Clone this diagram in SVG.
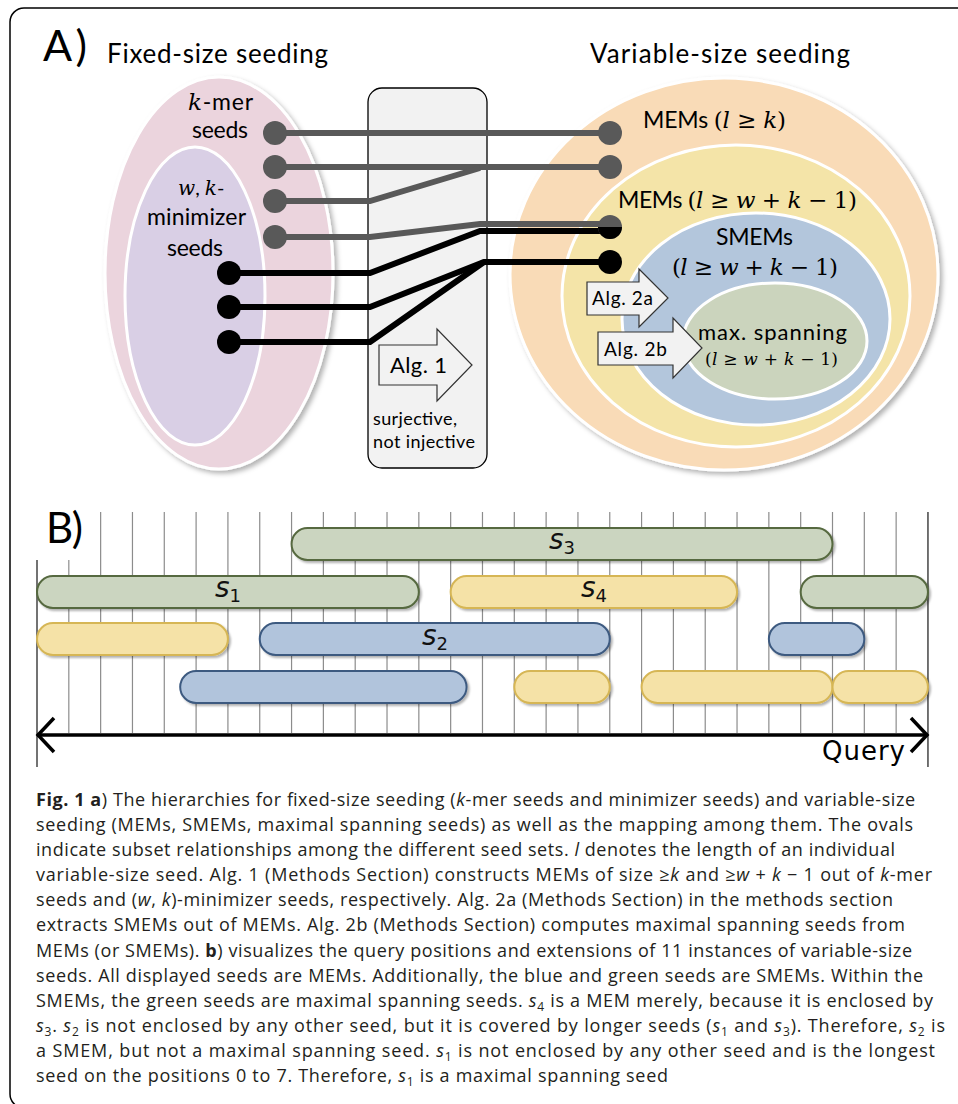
<svg xmlns="http://www.w3.org/2000/svg" width="958" height="1104" viewBox="0 0 958 1104">
<defs>
<filter id="sh" x="-10%" y="-10%" width="130%" height="130%"><feDropShadow dx="3" dy="3" stdDeviation="2.5" flood-color="#000" flood-opacity="0.3"/></filter>
<filter id="bsh" x="-5%" y="-20%" width="115%" height="160%"><feDropShadow dx="2" dy="2" stdDeviation="1.2" flood-color="#000" flood-opacity="0.3"/></filter>
<style>
.t{font-family:Lato,"Liberation Sans",sans-serif;fill:#000}
.m{font-family:"DejaVu Serif",serif;font-style:italic}
.mu{font-family:"DejaVu Serif",serif;font-style:normal}
.oval{stroke:#fff;stroke-width:3}
.g{stroke:#595959;stroke-width:6;fill:none}
.b{stroke:#000;stroke-width:6;fill:none}
.grid{stroke:#8c8c8c;stroke-width:1.2}
.dk{stroke:#444;stroke-width:1.5}
.gr{fill:#cbd5c0;stroke:#56693f;stroke-width:2}
.ye{fill:#f5e2a7;stroke:#d6b655;stroke-width:2}
.bl{fill:#b1c4dc;stroke:#3d5a80;stroke-width:2}
.cap{font-family:"Open Sans","Liberation Sans",sans-serif;font-size:18px;fill:#231f20}
.i{font-style:italic}
.bd{font-weight:bold}
.sub{font-size:12px}
.arr{fill:#f2f2f2;stroke:#333;stroke-width:1.2}
.sl{font-family:"DejaVu Sans",sans-serif;font-size:28px;font-style:italic;fill:#111}
.ss{font-size:18px;font-style:normal}
</style>
</defs>
<rect width="958" height="1104" fill="#fff"/>
<rect x="10" y="8" width="975" height="1100" rx="14" fill="#fff" stroke="#000" stroke-width="1.5"/>

<!-- Part A titles -->
<text class="t" x="43" y="61" font-size="43" textLength="44">A)</text>
<text class="t" x="107" y="63" font-size="26" textLength="221">Fixed-size seeding</text>
<text class="t" x="590" y="63" font-size="26" textLength="260">Variable-size seeding</text>

<!-- Fixed-size ovals -->
<g id="kmer-seeds">
<ellipse class="oval" cx="219" cy="273" rx="114" ry="196" fill="#ebd4dd" filter="url(#sh)"/>
<text class="t" x="188" y="110" font-size="23" textLength="65"><tspan class="m">k</tspan>-mer</text>
<text class="t" x="192" y="138" font-size="23" textLength="56">seeds</text>
</g>
<g id="minimizer-seeds">
<ellipse class="oval" cx="195" cy="296" rx="70" ry="149" fill="#d9cfe5"/>
<text class="t" x="178" y="195" font-size="20"><tspan class="m">w</tspan>, <tspan class="m">k</tspan>-</text>
<text class="t" x="147" y="225" font-size="23" textLength="99">minimizer</text>
<text class="t" x="167" y="256" font-size="23" textLength="56">seeds</text>
</g>

<!-- Middle box -->
<g id="alg1-box">
<rect x="368" y="88" width="119" height="380" rx="14" fill="#f2f2f2" stroke="#000" stroke-width="1.3"/>
</g>

<!-- Variable-size ovals -->
<g id="mems-k">
<ellipse class="oval" cx="724" cy="274" rx="214" ry="196" fill="#f9dbb7" filter="url(#sh)"/>
<text class="t" x="643" y="128" font-size="23" textLength="143">MEMs <tspan class="mu">(</tspan><tspan class="m">l</tspan><tspan class="mu"> ≥ </tspan><tspan class="m">k</tspan><tspan class="mu">)</tspan></text>
</g>
<g id="mems-wk">
<ellipse class="oval" cx="736" cy="296" rx="174" ry="151" fill="#f4e4a8"/>
<text class="t" x="618" y="208" font-size="23" textLength="239">MEMs <tspan class="mu">(</tspan><tspan class="m">l</tspan><tspan class="mu"> ≥ </tspan><tspan class="m">w</tspan><tspan class="mu"> + </tspan><tspan class="m">k</tspan><tspan class="mu"> − 1)</tspan></text>
</g>
<g id="smems">
<ellipse class="oval" cx="756" cy="319" rx="134" ry="106" fill="#b3c6dc"/>
<text class="t" x="716" y="245" font-size="23" textLength="77">SMEMs</text>
<text class="t" x="672" y="275" font-size="23" textLength="166"><tspan class="mu">(</tspan><tspan class="m">l</tspan><tspan class="mu"> ≥ </tspan><tspan class="m">w</tspan><tspan class="mu"> + </tspan><tspan class="m">k</tspan><tspan class="mu"> − 1)</tspan></text>
</g>
<g id="max-spanning">
<ellipse class="oval" cx="775" cy="341" rx="92" ry="58" fill="#cbd4bd"/>
<text class="t" x="698" y="340" font-size="22" textLength="149">max. spanning</text>
<text class="t" x="705" y="365" font-size="17" textLength="133"><tspan class="mu">(</tspan><tspan class="m">l</tspan><tspan class="mu"> ≥ </tspan><tspan class="m">w</tspan><tspan class="mu"> + </tspan><tspan class="m">k</tspan><tspan class="mu"> − 1)</tspan></text>
</g>

<!-- Connectors -->
<g id="connectors">
<path class="g" d="M275,133 H610"/>
<path class="g" d="M275,167 H610"/>
<path class="g" d="M275,201 H370 L480,168"/>
<path class="g" d="M275,237 H370 L480,224 H610"/>
<path class="b" d="M229,273 H370 L480,231 H610"/>
<path class="b" d="M229,307 H370 L484,262 H610"/>
<path class="b" d="M229,342 H370 L484,262"/>
<g fill="#595959">
<circle cx="275" cy="133" r="12"/>
<circle cx="275" cy="167" r="12"/>
<circle cx="275" cy="201" r="12"/>
<circle cx="275" cy="237" r="12"/>
<circle cx="610" cy="133" r="12"/>
<circle cx="610" cy="167" r="12"/>
<circle cx="610" cy="227" r="12"/>
</g>
<path d="M598,227 A12,12 0 0 0 622,227 Z" fill="#000"/>
<g fill="#000">
<circle cx="229" cy="273" r="12"/>
<circle cx="229" cy="307" r="12"/>
<circle cx="229" cy="342" r="12"/>
<circle cx="610" cy="262" r="12"/>
</g>
</g>

<!-- Algorithm arrows -->
<g id="alg1">
<path class="arr" d="M379,345 H437 V329 L472,365 L437,401 V385 H379 Z"/>
<text class="t" x="390" y="373" font-size="22" textLength="57">Alg. 1</text>
<text class="t" x="373" y="425" font-size="18" textLength="84">surjective,</text>
<text class="t" x="373" y="448" font-size="18" textLength="102">not injective</text>
</g>
<g id="alg2a">
<path class="arr" d="M587,282 H639 V269 L668,298 L639,327 V315 H587 Z"/>
<text class="t" x="592" y="305" font-size="19" textLength="61">Alg. 2a</text>
</g>
<g id="alg2b">
<path class="arr" d="M598,332 H673 V318 L702,348 L673,378 V365 H598 Z"/>
<text class="t" x="604" y="356" font-size="19" textLength="63">Alg. 2b</text>
</g>

<!-- Part B -->
<text class="t" x="46" y="543" font-size="42" textLength="37">B)</text>
<g id="grid">
<line class="dk" x1="37" y1="560" x2="37" y2="767"/>
<line class="grid" x1="68.82" y1="560" x2="68.82" y2="733"/>
<line class="grid" x1="100.64" y1="512" x2="100.64" y2="733"/>
<line class="grid" x1="132.46" y1="512" x2="132.46" y2="733"/>
<line class="grid" x1="164.28" y1="512" x2="164.28" y2="733"/>
<line class="grid" x1="196.1" y1="512" x2="196.1" y2="733"/>
<line class="grid" x1="227.92" y1="512" x2="227.92" y2="733"/>
<line class="grid" x1="259.74" y1="512" x2="259.74" y2="733"/>
<line class="grid" x1="291.56" y1="512" x2="291.56" y2="733"/>
<line class="grid" x1="323.38" y1="512" x2="323.38" y2="733"/>
<line class="grid" x1="355.2" y1="512" x2="355.2" y2="733"/>
<line class="grid" x1="387.02" y1="512" x2="387.02" y2="733"/>
<line class="grid" x1="418.84" y1="512" x2="418.84" y2="733"/>
<line class="grid" x1="450.66" y1="512" x2="450.66" y2="733"/>
<line class="grid" x1="482.48" y1="512" x2="482.48" y2="733"/>
<line class="grid" x1="514.3" y1="512" x2="514.3" y2="733"/>
<line class="grid" x1="546.12" y1="512" x2="546.12" y2="733"/>
<line class="grid" x1="577.94" y1="512" x2="577.94" y2="733"/>
<line class="grid" x1="609.76" y1="512" x2="609.76" y2="733"/>
<line class="grid" x1="641.58" y1="512" x2="641.58" y2="733"/>
<line class="grid" x1="673.4" y1="512" x2="673.4" y2="733"/>
<line class="grid" x1="705.22" y1="512" x2="705.22" y2="733"/>
<line class="grid" x1="737.04" y1="512" x2="737.04" y2="733"/>
<line class="grid" x1="768.86" y1="512" x2="768.86" y2="733"/>
<line class="grid" x1="800.68" y1="512" x2="800.68" y2="733"/>
<line class="grid" x1="832.5" y1="512" x2="832.5" y2="733"/>
<line class="grid" x1="864.32" y1="512" x2="864.32" y2="733"/>
<line class="grid" x1="896.14" y1="512" x2="896.14" y2="733"/>
<line class="dk" x1="927.96" y1="512" x2="927.96" y2="767"/>
</g>

<g id="seeds" filter="url(#bsh)">
<rect class="gr" x="291.56" y="528" width="540.94" height="32" rx="16"/>
<rect class="gr" x="37" y="576" width="381.84" height="32" rx="16"/>
<rect class="ye" x="450.66" y="576" width="286.38" height="32" rx="16"/>
<rect class="gr" x="800.68" y="576" width="127.28" height="32" rx="16"/>
<rect class="ye" x="37" y="623" width="190.92" height="32" rx="16"/>
<rect class="bl" x="259.74" y="623" width="350.02" height="32" rx="16"/>
<rect class="bl" x="768.86" y="623" width="95.46" height="32" rx="16"/>
<rect class="bl" x="180.19" y="671" width="286.38" height="32" rx="16"/>
<rect class="ye" x="514.3" y="671" width="95.46" height="32" rx="16"/>
<rect class="ye" x="641.58" y="671" width="190.92" height="32" rx="16"/>
<rect class="ye" x="832.5" y="671" width="95.46" height="32" rx="16"/>
</g>
<g id="seed-labels">
<text class="sl" x="562" y="549" text-anchor="middle">s<tspan class="ss" dy="5">3</tspan></text>
<text class="sl" x="228" y="597" text-anchor="middle">s<tspan class="ss" dy="5">1</tspan></text>
<text class="sl" x="594" y="597" text-anchor="middle">s<tspan class="ss" dy="5">4</tspan></text>
<text class="sl" x="435" y="645" text-anchor="middle">s<tspan class="ss" dy="5">2</tspan></text>
</g>

<g id="query-axis">
<path d="M37,735 H928" stroke="#000" stroke-width="3.5" fill="none"/>
<path d="M54,718 L38,735 L54,752" stroke="#000" stroke-width="3.5" fill="none"/>
<path d="M911,718 L927,735 L911,752" stroke="#000" stroke-width="3.5" fill="none"/>
<text x="822" y="760" font-family="'DejaVu Sans',sans-serif" font-size="26" textLength="83">Query</text>
</g>

<!-- Caption -->
<g id="caption" class="cap">
<text x="36" y="806" textLength="879" lengthAdjust="spacing"><tspan class="bd">Fig. 1 a</tspan>) The hierarchies for fixed-size seeding (<tspan class="i">k</tspan>-mer seeds and minimizer seeds) and variable-size</text>
<text x="36" y="831" textLength="877" lengthAdjust="spacing">seeding (MEMs, SMEMs, maximal spanning seeds) as well as the mapping among them. The ovals</text>
<text x="36" y="856" textLength="859" lengthAdjust="spacing">indicate subset relationships among the different seed sets. <tspan class="i">l</tspan> denotes the length of an individual</text>
<text x="36" y="881" textLength="896" lengthAdjust="spacing">variable-size seed. Alg. 1 (Methods Section) constructs MEMs of size ≥<tspan class="i">k</tspan> and ≥<tspan class="i">w</tspan> + <tspan class="i">k</tspan> − 1 out of <tspan class="i">k</tspan>-mer</text>
<text x="36" y="906" textLength="857" lengthAdjust="spacing">seeds and (<tspan class="i">w</tspan>, <tspan class="i">k</tspan>)-minimizer seeds, respectively. Alg. 2a (Methods Section) in the methods section</text>
<text x="36" y="931" textLength="869" lengthAdjust="spacing">extracts SMEMs out of MEMs. Alg. 2b (Methods Section) computes maximal spanning seeds from</text>
<text x="36" y="957" textLength="876" lengthAdjust="spacing">MEMs (or SMEMs). <tspan class="bd">b</tspan>) visualizes the query positions and extensions of 11 instances of variable-size</text>
<text x="36" y="982" textLength="887" lengthAdjust="spacing">seeds. All displayed seeds are MEMs. Additionally, the blue and green seeds are SMEMs. Within the</text>
<text x="36" y="1007" textLength="897" lengthAdjust="spacing">SMEMs, the green seeds are maximal spanning seeds. <tspan class="i">s</tspan><tspan class="sub" dy="4">4</tspan><tspan dy="-4"> is a MEM merely, because it is enclosed by</tspan></text>
<text x="36" y="1032" textLength="909" lengthAdjust="spacing"><tspan class="i">s</tspan><tspan class="sub" dy="4">3</tspan><tspan dy="-4">. </tspan><tspan class="i">s</tspan><tspan class="sub" dy="4">2</tspan><tspan dy="-4"> is not enclosed by any other seed, but it is covered by longer seeds (</tspan><tspan class="i">s</tspan><tspan class="sub" dy="4">1</tspan><tspan dy="-4"> and </tspan><tspan class="i">s</tspan><tspan class="sub" dy="4">3</tspan><tspan dy="-4">). Therefore, </tspan><tspan class="i">s</tspan><tspan class="sub" dy="4">2</tspan><tspan dy="-4"> is</tspan></text>
<text x="36" y="1057" textLength="899" lengthAdjust="spacing">a SMEM, but not a maximal spanning seed. <tspan class="i">s</tspan><tspan class="sub" dy="4">1</tspan><tspan dy="-4"> is not enclosed by any other seed and is the longest</tspan></text>
<text x="36" y="1082" textLength="632" lengthAdjust="spacing">seed on the positions 0 to 7. Therefore, <tspan class="i">s</tspan><tspan class="sub" dy="4">1</tspan><tspan dy="-4"> is a maximal spanning seed</tspan></text>
</g>
</svg>
